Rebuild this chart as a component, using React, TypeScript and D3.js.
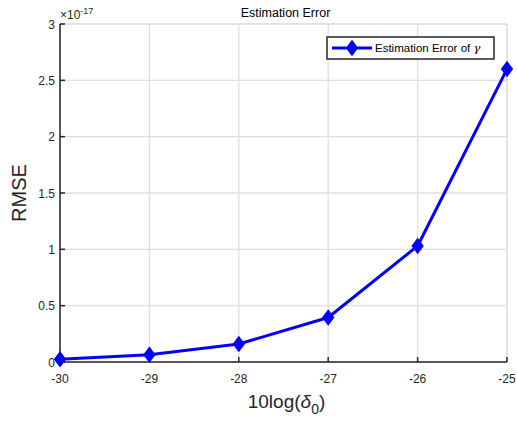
import React from "react";
import * as d3 from "d3";

const xValues = [-30, -29, -28, -27, -26, -25];
const rmseValues = [0.025, 0.065, 0.16, 0.395, 1.03, 2.6];
const xTicks = [-30, -29, -28, -27, -26, -25];
const yTicks = [0, 0.5, 1, 1.5, 2, 2.5, 3];

const W = 517;
const H = 421;
const margin = { left: 60, right: 10, top: 24, bottom: 59 };

const App = () => {
  const x = d3.scaleLinear().domain([-30, -25]).range([margin.left, W - margin.right]);
  const y = d3.scaleLinear().domain([0, 3]).range([H - margin.bottom, margin.top]);
  const pts: [number, number][] = xValues.map((v, i) => [x(v), y(rmseValues[i])]);
  const line = d3.line()(pts) || "";
  const diamond = (cx: number, cy: number, r: number) =>
    `M${cx},${cy - r}L${cx + r * 0.75},${cy}L${cx},${cy + r}L${cx - r * 0.75},${cy}Z`;

  const x0 = x.range()[0], x1 = x.range()[1];
  const y0 = y.range()[0], y1 = y.range()[1];
  const font = "Liberation Sans, Arial, sans-serif";

  return (
    <svg width={W} height={H} style={{ position: "absolute", left: 0, top: 0, background: "#fff" }} fontFamily={font}>
      {/* grid */}
      {xTicks.map(t => (
        <line key={"gx" + t} x1={x(t)} x2={x(t)} y1={y0} y2={y1} stroke="#dfdfdf" strokeWidth={1.3} />
      ))}
      {yTicks.map(t => (
        <line key={"gy" + t} x1={x0} x2={x1} y1={y(t)} y2={y(t)} stroke="#dfdfdf" strokeWidth={1.3} />
      ))}
      {/* top/right box */}
      <line x1={x0} x2={x1} y1={y1} y2={y1} stroke="#dfdfdf" strokeWidth={1.3} />
      <line x1={x1} x2={x1} y1={y0} y2={y1} stroke="#dfdfdf" strokeWidth={1.3} />
      {/* axes */}
      <line x1={x0} x2={x1} y1={y0} y2={y0} stroke="#262626" strokeWidth={1.5} />
      <line x1={x0} x2={x0} y1={y0} y2={y1} stroke="#262626" strokeWidth={1.5} />
      {xTicks.map(t => (
        <g key={"tx" + t}>
          <line x1={x(t)} x2={x(t)} y1={y0} y2={y0 - 5} stroke="#262626" strokeWidth={1.5} />
          <text x={x(t)} y={y0 + 21} fontSize={12} textAnchor="middle" fill="#262626">{t}</text>
        </g>
      ))}
      {yTicks.map(t => (
        <g key={"ty" + t}>
          <line x1={x0} x2={x0 + 5} y1={y(t)} y2={y(t)} stroke="#262626" strokeWidth={1.5} />
          <text x={x0 - 5} y={y(t) + 4.5} fontSize={12} textAnchor="end" fill="#262626">{t}</text>
        </g>
      ))}
      <text x={x0} y={19} fontSize={12} fill="#262626">
        ×10<tspan dy={-5} fontSize={9}>-17</tspan>
      </text>
      {/* title */}
      <text x={(x0 + x1) / 2 + 2} y={17} fontSize={12.5} textAnchor="middle" fill="#000">Estimation Error</text>
      {/* axis labels */}
      <text x={(x0 + x1) / 2 + 3} y={408} fontSize={19} textAnchor="middle" fill="#262626">
        10log(<tspan fontStyle="italic">δ</tspan><tspan dy={6} fontSize={14}>0</tspan><tspan dy={-6}>)</tspan>
      </text>
      <text transform={`translate(26,${(y0 + y1) / 2}) rotate(-90)`} fontSize={20} textAnchor="middle" fill="#262626">RMSE</text>
      {/* series */}
      <path d={line} fill="none" stroke="#0000ff" strokeWidth={3} strokeLinejoin="round" />
      {pts.map(([cx, cy], i) => (
        <path key={"m" + i} d={diamond(cx, cy, 7)} fill="#0000ff" stroke="#0000ff" strokeWidth={1.5} />
      ))}
      {/* legend */}
      <rect x={327} y={37} width={167} height={22} fill="#fff" stroke="#262626" strokeWidth={1.5} />
      <line x1={332} x2={372} y1={48} y2={48} stroke="#0000ff" strokeWidth={3} />
      <path d={diamond(352, 48, 7)} fill="#0000ff" stroke="#0000ff" strokeWidth={1.5} />
      <text x={375} y={52} fontSize={11.5} fill="#000">
        Estimation Error of <tspan fontStyle="italic" fontFamily="DejaVu Serif, serif">γ</tspan>
      </text>
    </svg>
  );
};

export default App;
